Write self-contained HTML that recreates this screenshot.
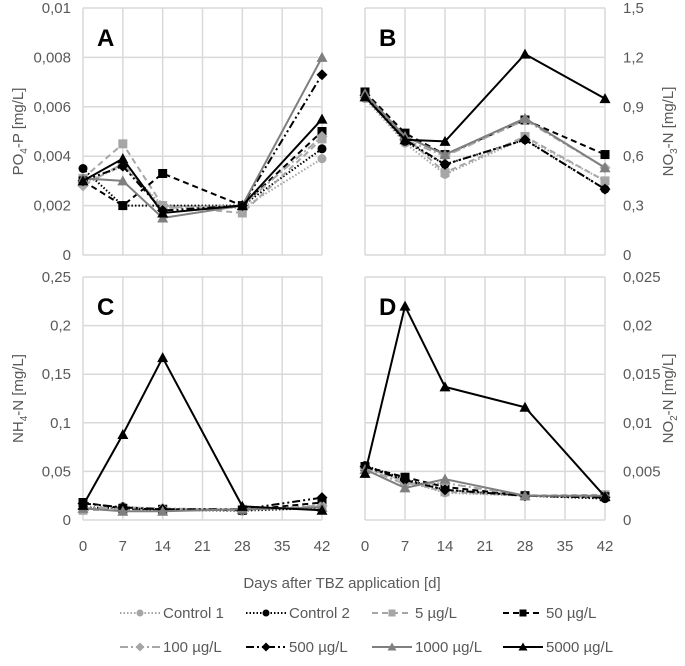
<!DOCTYPE html>
<html><head><meta charset="utf-8"><style>
body{margin:0;background:#fff;}
svg{font-family:"Liberation Sans",sans-serif;}
</style></head><body>
<svg id="c" width="685" height="661" viewBox="0 0 685 661"></svg>
<script>
const days=[0,7,14,28,42];
const xTicks=[0,7,14,21,28,35,42];
const series=["Control 1","Control 2","5 µg/L","50 µg/L","100 µg/L","500 µg/L","1000 µg/L","5000 µg/L"];
const dataA=[[0.0029,0.0036,0.0020,0.0019,0.0039],[0.0035,0.0020,0.0020,0.0020,0.0043],[0.0031,0.0045,0.0020,0.0017,0.0047],[0.0030,0.0020,0.0033,0.0020,0.0050],[0.0028,0.0037,0.0019,0.0020,0.0048],[0.0030,0.0036,0.0018,0.0020,0.0073],[0.0031,0.0030,0.0015,0.0020,0.0080],[0.0030,0.0039,0.0017,0.0020,0.0055]];
const dataB=[[0.95,0.68,0.49,0.71,0.45],[0.97,0.69,0.55,0.70,0.40],[0.99,0.72,0.50,0.72,0.45],[0.99,0.74,0.61,0.82,0.61],[0.97,0.70,0.60,0.82,0.53],[0.97,0.70,0.55,0.70,0.40],[0.98,0.72,0.61,0.83,0.53],[0.96,0.70,0.69,1.22,0.95]];
const dataC=[[0.012,0.014,0.011,0.009,0.013],[0.013,0.012,0.010,0.010,0.012],[0.010,0.011,0.011,0.011,0.014],[0.018,0.012,0.011,0.010,0.018],[0.012,0.013,0.012,0.010,0.015],[0.017,0.013,0.011,0.011,0.023],[0.012,0.009,0.009,0.011,0.013],[0.015,0.088,0.167,0.014,0.010]];
const dataD=[[0.0055,0.0040,0.0028,0.0025,0.0023],[0.0056,0.0042,0.0031,0.0025,0.0022],[0.0054,0.0040,0.0029,0.0025,0.0026],[0.0055,0.0044,0.0034,0.0025,0.0024],[0.0053,0.0037,0.0038,0.0025,0.0024],[0.0055,0.0041,0.0031,0.0025,0.0023],[0.0052,0.0033,0.0042,0.0025,0.0025],[0.0048,0.0220,0.0137,0.0116,0.0024]];
const ticksA=["0","0,002","0,004","0,006","0,008","0,01"];
const ticksB=["0","0,3","0,6","0,9","1,2","1,5"];
const ticksC=["0","0,05","0,1","0,15","0,2","0,25"];
const ticksD=["0","0,005","0,01","0,015","0,02","0,025"];
const styles=[{c:"#a6a6a6",d:"1.5 2",m:"circle"},{c:"#000",d:"1.5 2",m:"circle"},{c:"#a6a6a6",d:"6 4",m:"square"},{c:"#000",d:"6 4",m:"square"},{c:"#a6a6a6",d:"8 3 2 3",m:"diamond"},{c:"#000",d:"8 3 2 3 2 3",m:"diamond"},{c:"#7f7f7f",d:"",m:"tri"},{c:"#000",d:"",m:"tri"}];
const S=document.getElementById('c');const NS="http://www.w3.org/2000/svg";
function el(t,a,p){const e=document.createElementNS(NS,t);for(const k in a)e.setAttribute(k,a[k]);(p||S).appendChild(e);return e;}
function marker(g,m,x,y,c,s){s=s||4.5;let e;
 if(m=="circle")e=el('circle',{cx:x,cy:y,r:s},g);
 else if(m=="square")e=el('rect',{x:x-s,y:y-s,width:2*s,height:2*s},g);
 else if(m=="diamond")e=el('polygon',{points:`${x},${y-s-1} ${x+s+1},${y} ${x},${y+s+1} ${x-s-1},${y}`},g);
 else e=el('polygon',{points:`${x},${y-s-1} ${x+s+1},${y+s} ${x-s-1},${y+s}`},g);
 e.setAttribute('fill',c);return e;}
function panel(name,x0,x1,y0,y1,max,ticks,data,right,label,title){
 const g=el('g',{});
 const X=d=>x0+(x1-x0)*d/42, Y=v=>y0-(y0-y1)*v/max;
 xTicks.forEach(d=>el('line',{x1:X(d),x2:X(d),y1:y1,y2:y0,stroke:'#d9d9d9','stroke-width':1.5},g));
 ticks.forEach((t,i)=>{const y=y0-(y0-y1)*i/(ticks.length-1);el('line',{x1:x0,x2:x1,y1:y,y2:y,stroke:'#d9d9d9','stroke-width':1.5},g);
  const tx=el('text',{x:right?x1+18:x0-12,y:y+5,'font-size':15,fill:'#595959','text-anchor':right?'start':'end'},g);tx.textContent=t;});
 const lb=el('text',{x:x0+14,y:y1+38,'font-size':24,'font-weight':'bold',fill:'#000'},g);lb.textContent=label;
 
 const tx=right?x1+68:x0-60,ty=(y0+y1)/2;
 const at=el('text',{x:tx,y:ty,'font-size':15,fill:'#595959','text-anchor':'middle',transform:`rotate(-90 ${tx} ${ty})`},g);at.innerHTML=title;
 
 data.forEach((vals,si)=>{const st=styles[si];
  const pts=vals.map((v,i)=>X(days[i])+','+Y(v)).join(' ');
  const pl=el('polyline',{points:pts,fill:'none',stroke:st.c,'stroke-width':2,'stroke-dasharray':st.d},g);
  
  vals.forEach((v,i)=>{const m=marker(g,st.m,X(days[i]),Y(v),st.c);});});
 return X;}
panel('panel-a',83,322,255,8,0.01,ticksA,dataA,false,'A','PO<tspan font-size="10" dy="4">4</tspan><tspan dy="-4">-P [mg/L]</tspan>');
panel('panel-b',365,605,255,8,1.5,ticksB,dataB,true,'B','NO<tspan font-size="10" dy="4">3</tspan><tspan dy="-4">-N [mg/L]</tspan>');
const XC=panel('panel-c',83,322,520,277,0.25,ticksC,dataC,false,'C','NH<tspan font-size="10" dy="4">4</tspan><tspan dy="-4">-N [mg/L]</tspan>');
const XD=panel('panel-d',365,605,520,277,0.025,ticksD,dataD,true,'D','NO<tspan font-size="10" dy="4">2</tspan><tspan dy="-4">-N [mg/L]</tspan>');
xTicks.forEach(d=>{[XC,XD].forEach(X=>{const t=el('text',{x:X(d),y:551,'font-size':15,fill:'#595959','text-anchor':'middle'});t.textContent=d;
 });});
const xt=el('text',{x:342,y:588,'font-size':15,fill:'#595959','text-anchor':'middle'});xt.textContent='Days after TBZ application [d]';

const lx=[120,246,372,503],ly=[618,652];
series.forEach((s,i)=>{const x=lx[i%4],y=ly[Math.floor(i/4)],st=styles[i];
 const g=el('g',{});
 el('line',{x1:x,x2:x+40,y1:y-5,y2:y-5,stroke:st.c,'stroke-width':2,'stroke-dasharray':st.d},g);
 marker(g,st.m,x+20,y-5,st.c,3.5);
 const t=el('text',{x:x+43,y:y,'font-size':15,fill:'#595959'},g);t.textContent=s;});
</script>
</body></html>
